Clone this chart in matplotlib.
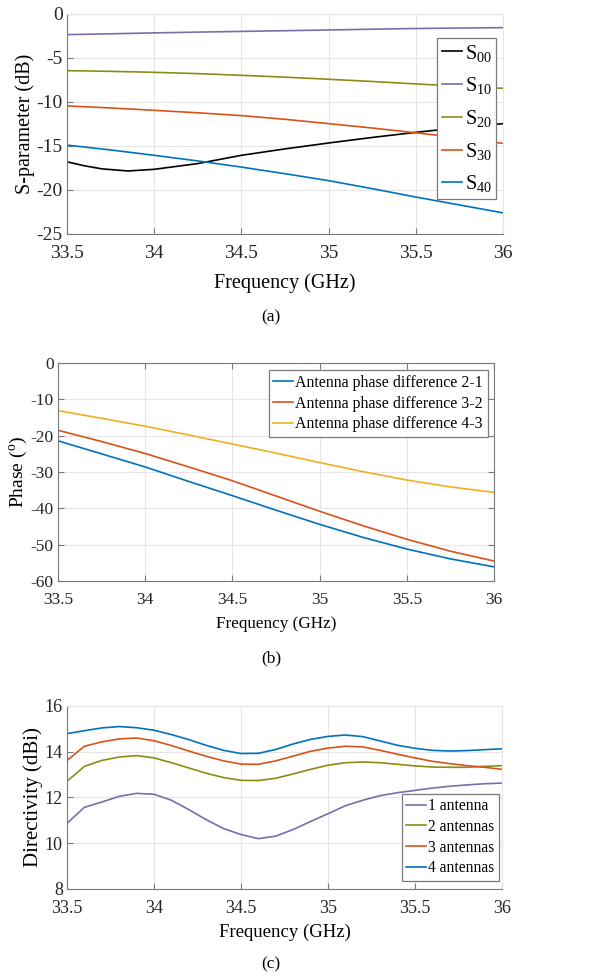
import matplotlib
matplotlib.use("Agg")
import matplotlib.pyplot as plt
import numpy as np

plt.rcParams['font.family'] = ['Liberation Serif', 'DejaVu Serif']
plt.rcParams['mathtext.fontset'] = 'custom'
plt.rcParams['mathtext.rm'] = 'Liberation Serif'
plt.rcParams['mathtext.it'] = 'Liberation Serif'
plt.rcParams['axes.unicode_minus'] = False

# ---- (a) S-parameters ----
f_a = [33.5, 33.75, 34.0, 34.25, 34.5, 34.75, 35.0, 35.25, 35.5, 35.75, 36.0]
s10 = [-2.35, -2.25, -2.15, -2.06, -1.98, -1.90, -1.82, -1.73, -1.65, -1.60, -1.55]
s20 = [-6.44, -6.52, -6.63, -6.78, -6.97, -7.18, -7.42, -7.67, -7.95, -8.20, -8.45]
s30 = [-10.45, -10.68, -10.95, -11.23, -11.55, -11.97, -12.46, -12.96, -13.5, -14.08, -14.7]
s40 = [-14.9, -15.45, -16.06, -16.7, -17.4, -18.15, -18.94, -19.85, -20.8, -21.7, -22.6]
f_s00 = [33.5, 33.6, 33.7, 33.85, 34.0, 34.25, 34.5, 34.75, 35.0, 35.25, 35.5, 35.75, 36.0]
s00 = [-16.8, -17.25, -17.6, -17.84, -17.65, -17.0, -16.06, -15.33, -14.66, -14.03, -13.45, -12.92, -12.46]

# ---- (b) phase differences ----
f_b = [33.5, 33.75, 34.0, 34.25, 34.5, 34.75, 35.0, 35.25, 35.5, 35.75, 36.0]
ph21 = [-21.4, -25.0, -28.6, -32.6, -36.5, -40.5, -44.4, -48.0, -51.2, -53.9, -56.1]
ph32 = [-18.5, -21.6, -24.9, -28.6, -32.4, -36.6, -40.8, -44.8, -48.5, -51.8, -54.5]
ph43 = [-13.1, -15.2, -17.4, -19.8, -22.3, -24.8, -27.4, -29.9, -32.2, -34.1, -35.6]

# ---- (c) directivity ----
f_c = [33.5, 33.6, 33.7, 33.8, 33.9, 34.0, 34.1, 34.2, 34.3, 34.4, 34.5, 34.6, 34.7,
       34.8, 34.9, 35.0, 35.1, 35.2, 35.3, 35.4, 35.5, 35.6, 35.7, 35.8, 35.9, 36.0]
d1 = [10.87, 11.57, 11.80, 12.05, 12.18, 12.14, 11.88, 11.47, 11.03, 10.64, 10.38, 10.20, 10.31,
      10.60, 10.95, 11.29, 11.64, 11.88, 12.08, 12.21, 12.31, 12.41, 12.49, 12.55, 12.60, 12.63]
d2 = [12.71, 13.36, 13.62, 13.77, 13.83, 13.73, 13.52, 13.29, 13.06, 12.87, 12.75, 12.74, 12.84,
      13.03, 13.23, 13.41, 13.52, 13.55, 13.52, 13.45, 13.38, 13.33, 13.32, 13.32, 13.36, 13.39]
d3 = [13.62, 14.24, 14.43, 14.56, 14.60, 14.48, 14.27, 14.03, 13.80, 13.60, 13.46, 13.45, 13.60,
      13.81, 14.02, 14.16, 14.24, 14.21, 14.06, 13.89, 13.73, 13.58, 13.48, 13.39, 13.32, 13.23]
d4 = [14.79, 14.92, 15.04, 15.10, 15.05, 14.94, 14.75, 14.53, 14.28, 14.06, 13.92, 13.93, 14.10,
      14.34, 14.54, 14.67, 14.73, 14.66, 14.47, 14.28, 14.15, 14.06, 14.03, 14.05, 14.09, 14.13]

xticks = [33.5, 34, 34.5, 35, 35.5, 36]
xticklabels = ['33.5', '34', '34.5', '35', '35.5', '36']

BLUE = '#0072BD'
RED = '#D95319'
YELLOW = '#EDB120'
PURPLE = '#7E6BAA'
OLIVE = '#8C8C14'
GRIDC = '#e6e6e6'
AXC = '#7a7a7a'


def style(ax, fs, box):
    ax.set_xlim(33.5, 36)
    ax.set_xticks(xticks)
    ax.set_xticklabels(xticklabels)
    ax.grid(True, color=GRIDC, linewidth=0.8)
    ax.set_axisbelow(True)
    ax.tick_params(direction='in', labelsize=fs, length=4, top=box, right=box,
                   colors=AXC, labelcolor='#262626')
    ax.tick_params(axis='x', pad=8)
    ax.tick_params(axis='y', pad=3)
    for s in ['left', 'bottom']:
        ax.spines[s].set_color(AXC)
    for s in ['top', 'right']:
        ax.spines[s].set_color(AXC if box else GRIDC)


def frame(leg):
    leg.get_frame().set_edgecolor(AXC)
    leg.get_frame().set_linewidth(0.9)


fig = plt.figure(figsize=(6.01, 9.77), dpi=100)

# (a)
ax1 = fig.add_axes([0.1115, 0.7605, 0.7255, 0.2252])
ax1.plot(f_s00, s00, color='k', lw=1.2, label=r'S$_{00}$')
ax1.plot(f_a, s10, color=PURPLE, lw=1.2, label=r'S$_{10}$')
ax1.plot(f_a, s20, color=OLIVE, lw=1.2, label=r'S$_{20}$')
ax1.plot(f_a, s30, color=RED, lw=1.2, label=r'S$_{30}$')
ax1.plot(f_a, s40, color=BLUE, lw=1.2, label=r'S$_{40}$')
ax1.set_ylim(-25, 0)
ax1.set_yticks([-25, -20, -15, -10, -5, 0])
style(ax1, 14, False)
ax1.set_xlabel('Frequency (GHz)', fontsize=14.5, labelpad=8)
ax1.set_ylabel('S-parameter (dB)', fontsize=14.5, labelpad=1)
leg = ax1.legend(loc='upper right', bbox_to_anchor=(0.985, 0.893), fontsize=14.5,
                 handlelength=0.95, handletextpad=0.15, labelspacing=0.58,
                 borderpad=0.25, borderaxespad=0, fancybox=False, framealpha=1)
frame(leg)
fig.text(0.451, 0.675, '(a)', ha='center', va='center', fontsize=12.5)

# (b)
ax2 = fig.add_axes([0.0965, 0.4053, 0.7255, 0.2231])
ax2.plot(f_b, ph21, color=BLUE, lw=1.2, label='Antenna phase difference 2-1')
ax2.plot(f_b, ph32, color=RED, lw=1.2, label='Antenna phase difference 3-2')
ax2.plot(f_b, ph43, color=YELLOW, lw=1.2, label='Antenna phase difference 4-3')
ax2.set_ylim(-60, 0)
ax2.set_yticks([-60, -50, -40, -30, -20, -10, 0])
style(ax2, 12.5, True)
ax2.set_xlabel('Frequency (GHz)', fontsize=12.3, labelpad=6)
ax2.set_ylabel(r'Phase ($^{\mathrm{o}}$)', fontsize=14, labelpad=1)
leg = ax2.legend(loc='upper right', bbox_to_anchor=(0.986, 0.968), fontsize=11.4,
                 handlelength=1.25, handletextpad=0.15, labelspacing=0.3,
                 borderpad=0.3, borderaxespad=0, fancybox=False, framealpha=1)
frame(leg)
fig.text(0.451, 0.326, '(b)', ha='center', va='center', fontsize=12.5)

# (c)
ax3 = fig.add_axes([0.1115, 0.0901, 0.7238, 0.1873])
ax3.plot(f_c, d1, color=PURPLE, lw=1.2, label='1 antenna')
ax3.plot(f_c, d2, color=OLIVE, lw=1.2, label='2 antennas')
ax3.plot(f_c, d3, color=RED, lw=1.2, label='3 antennas')
ax3.plot(f_c, d4, color=BLUE, lw=1.2, label='4 antennas')
ax3.set_ylim(8, 16)
ax3.set_yticks([8, 10, 12, 14, 16])
style(ax3, 13, False)
ax3.set_xlabel('Frequency (GHz)', fontsize=13.5, labelpad=5)
ax3.set_ylabel('Directivity (dBi)', fontsize=15, labelpad=1)
leg = ax3.legend(loc='lower right', bbox_to_anchor=(0.993, 0.044), fontsize=11.2,
                 handlelength=1.25, handletextpad=0.15, labelspacing=0.3,
                 borderpad=0.3, borderaxespad=0, fancybox=False, framealpha=1)
frame(leg)
fig.text(0.451, 0.0125, '(c)', ha='center', va='center', fontsize=12.5)

fig.savefig('out.png', dpi=100)
